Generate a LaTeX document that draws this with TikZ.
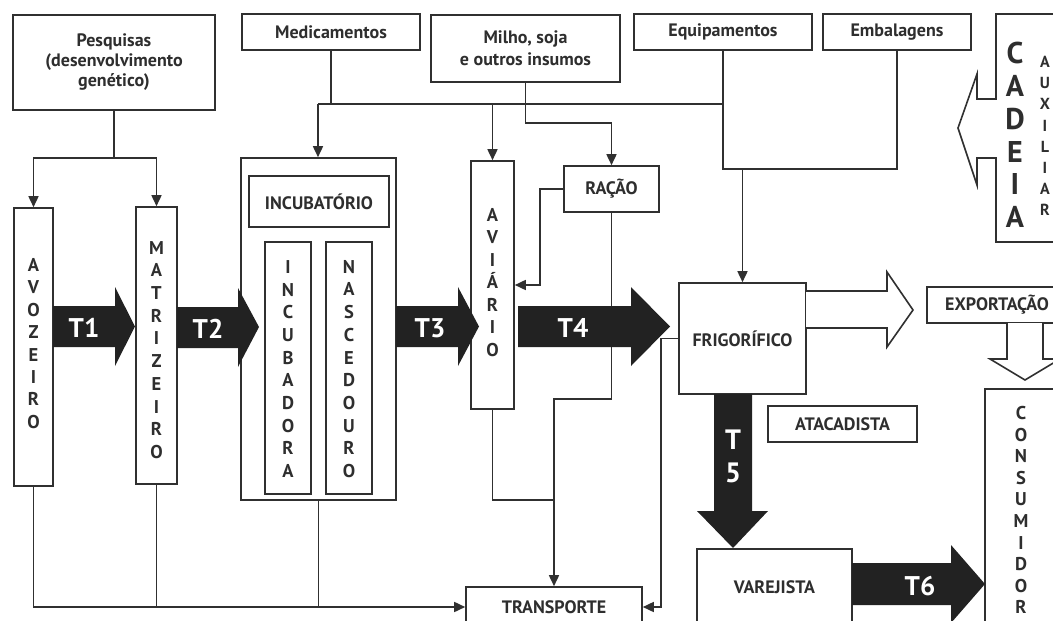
\documentclass[tikz,border=0pt]{standalone}
\usepackage{fontspec}
\setmainfont{PT Sans}
\usetikzlibrary{arrows.meta}
\definecolor{linec}{HTML}{303030}
\definecolor{fatc}{HTML}{222222}
\definecolor{txtc}{HTML}{2e2e2e}
\newcommand\fs[2]{\fontsize{#1}{#2}\selectfont\bfseries}
\begin{document}
\begin{tikzpicture}[x=1pt,y=-1pt,
 ln/.style={draw=linec,line width=1.6pt},
 box/.style={ln,fill=white,inner sep=0pt,align=center,text=txtc,font=\fs{18}{20}},
 arr/.style={ln,-{Triangle[length=11pt,width=10pt]}},
 fat/.style={fill=fatc},
 hol/.style={ln,fill=white,line join=miter},
 tl/.style={text=white,inner sep=0pt,font=\fs{27}{28}},
 stk/.style={text=txtc,align=center,inner sep=0pt,font=\fs{18.5}{#1}},
]
\useasboundingbox (0,0) rectangle (1053,621);
\clip (0,0) rectangle (1053,621);

% ---------- boxes ----------
\node[box,minimum width=202pt,minimum height=95pt] (pesq) at (114,62.5) {Pesquisas\\(desenvolvimento\\genético)};
\node[box,minimum width=178pt,minimum height=36pt] (medic) at (331,32) {Medicamentos};
\node[box,minimum width=189pt,minimum height=67pt,font=\fs{18}{22}] (milho) at (525.5,48.5) {Milho, soja\\e outros insumos};
\node[box,minimum width=178pt,minimum height=36pt] (equip) at (723,32) {Equipamentos};
\node[box,minimum width=148pt,minimum height=36pt] (emb) at (897,32) {Embalagens};

\node[box,minimum width=39pt,minimum height=278pt] (avoz) at (33.5,347) {};
\node[stk=22.4] (avozl) at (33.5,343.5) {A\\V\\O\\Z\\E\\I\\R\\O};
\node[box,minimum width=41pt,minimum height=277pt] (matr) at (156.5,345.5) {};
\node[stk=22.7] (matrl) at (156.5,350) {M\\A\\T\\R\\I\\Z\\E\\I\\R\\O};

\node[box,minimum width=155pt,minimum height=342pt] (incub) at (318.5,329) {};
\node[box,minimum width=140pt,minimum height=51pt] (incubt) at (319,201.5) {INCUBATÓRIO};
\node[box,minimum width=46pt,minimum height=252pt] (incb) at (288,368) {};
\node[stk=22.7] (incbl) at (288,369) {I\\N\\C\\U\\B\\A\\D\\O\\R\\A};
\node[box,minimum width=46pt,minimum height=252pt] (nasc) at (349,368) {};
\node[stk=22.7] (nascl) at (349,369) {N\\A\\S\\C\\E\\D\\O\\U\\R\\O};

\node[box,minimum width=43pt,minimum height=248pt] (avi) at (492.5,285) {};
\node[stk=22.5] (avil) at (492.5,282.5) {A\\V\\I\\Á\\R\\I\\O};
\node[box,minimum width=95pt,minimum height=46pt] (racao) at (611.5,189) {RAÇÃO};

\node[box,minimum width=127pt,minimum height=111pt] (frig) at (742.5,338.5) {FRIGORÍFICO};
\node[box,minimum width=140pt,minimum height=36pt] (export) at (997,305) {EXPORTAÇÃO};
\node[box,minimum width=149pt,minimum height=36pt] (atac) at (842.5,424) {ATACADISTA};
\node[box,minimum width=155pt,minimum height=76pt] (varej) at (774.5,587) {VAREJISTA};
\node[box,minimum width=176pt,minimum height=40pt] (transp) at (554,607) {TRANSPORTE};
\node[box,minimum width=85pt,minimum height=261pt] (cons) at (1027.5,519.5) {};
\node[stk=21.6] (consl) at (1021,510) {C\\O\\N\\S\\U\\M\\I\\D\\O\\R};

% ---------- cadeia auxiliar ----------
\draw[hol] (1070,14) -- (996,14) -- (996,99) -- (977,99) -- (977,74) -- (958,128) -- (977,185) -- (977,158) -- (996,158) -- (996,242) -- (1070,242);
\node[text=txtc,align=center,inner sep=0pt,font=\fs{30}{32.8}] (cad) at (1015,135) {C\\A\\D\\E\\I\\A};
\node[text=txtc,align=center,inner sep=0pt,font=\fs{16}{21.1}] (aux) at (1045,136) {A\\U\\X\\I\\L\\I\\A\\R};

% ---------- helper coordinates ----------
\coordinate (hP) at (0,158);
\coordinate (hM) at (318,104);
\coordinate (hE) at (0,169);
\coordinate (hMi) at (0,123);
\coordinate (hR) at (0,399);
\coordinate (hA) at (0,500);
\coordinate (vR) at (540,285);
\coordinate (vF) at (661,0);

% ---------- connectors ----------
\draw[ln] (pesq.south) -- (pesq.south |- hP);
\draw[arr] (pesq.south |- hP) -| (avoz.north);
\draw[arr] (pesq.south |- hP) -| (matr.north);

\draw[ln] (medic.south) -- (medic.south |- hM);
\draw[ln] (hM) -- (equip.south |- hM);
\draw[arr] (hM) -- (hM |- incub.north);
\draw[arr] (avi.north |- hM) -- (avi.north);

\draw[ln] (equip.south) |- (emb.south |- hE) -- (emb.south);
\draw[arr] (frig.north |- hE) -- (frig.north);

\draw[arr] (milho.south) |- (racao.north |- hMi) -- (racao.north);
\draw[arr] (racao.west) -| (vR) -- (vR -| avi.east);
\draw[arr] (racao.south) |- (transp.north |- hR) -- (transp.north);
\draw[ln] (avi.south) |- (transp.north |- hA);

\draw[arr] (frig.west) -- (vF |- frig.west) |- (transp.east);
\draw[arr] (avoz.south) |- (transp.west);
\draw[ln] (matr.south) -- (matr.south |- transp.west);
\draw[ln] (incub.south) -- (incub.south |- transp.west);

% ---------- hollow arrows ----------
\draw[hol] (806,291) -- (887,291) -- (887,272) -- (913,310) -- (887,347) -- (887,328) -- (806,328);
\draw[hol] (1007,323) -- (1007,359) -- (990,359) -- (1025,380) -- (1060,359) -- (1043,359) -- (1043,323);

% ---------- fat arrows ----------
\fill[fat] (53,306) -- (115,306) -- (115,287) -- (135,326.5) -- (115,366) -- (115,347) -- (53,347) -- cycle;
\fill[fat] (177,307) -- (238,307) -- (238,288) -- (259,327) -- (238,367) -- (238,348) -- (177,348) -- cycle;
\fill[fat] (396,306) -- (458,306) -- (458,287) -- (479,326.5) -- (458,366) -- (458,347) -- (396,347) -- cycle;
\fill[fat] (518,306) -- (631,306) -- (631,287) -- (670,326.5) -- (631,366) -- (631,347) -- (518,347) -- cycle;
\fill[fat] (714,394) -- (714,511) -- (697,511) -- (733,548) -- (768,511) -- (752,511) -- (752,394) -- cycle;
\fill[fat] (852,563) -- (951,563) -- (951,545) -- (985,584) -- (951,623) -- (951,605) -- (852,605) -- cycle;

\node[tl] (t1) at (84,328) {T1};
\node[tl] (t2) at (208,329) {T2};
\node[tl] (t3) at (430,328) {T3};
\node[tl] (t4) at (573,328) {T4};
\node[tl,align=center,font=\fs{28}{33}] (t5) at (733,456) {T\\5};
\node[tl] (t6) at (920,586) {T6};
\end{tikzpicture}
\end{document}
